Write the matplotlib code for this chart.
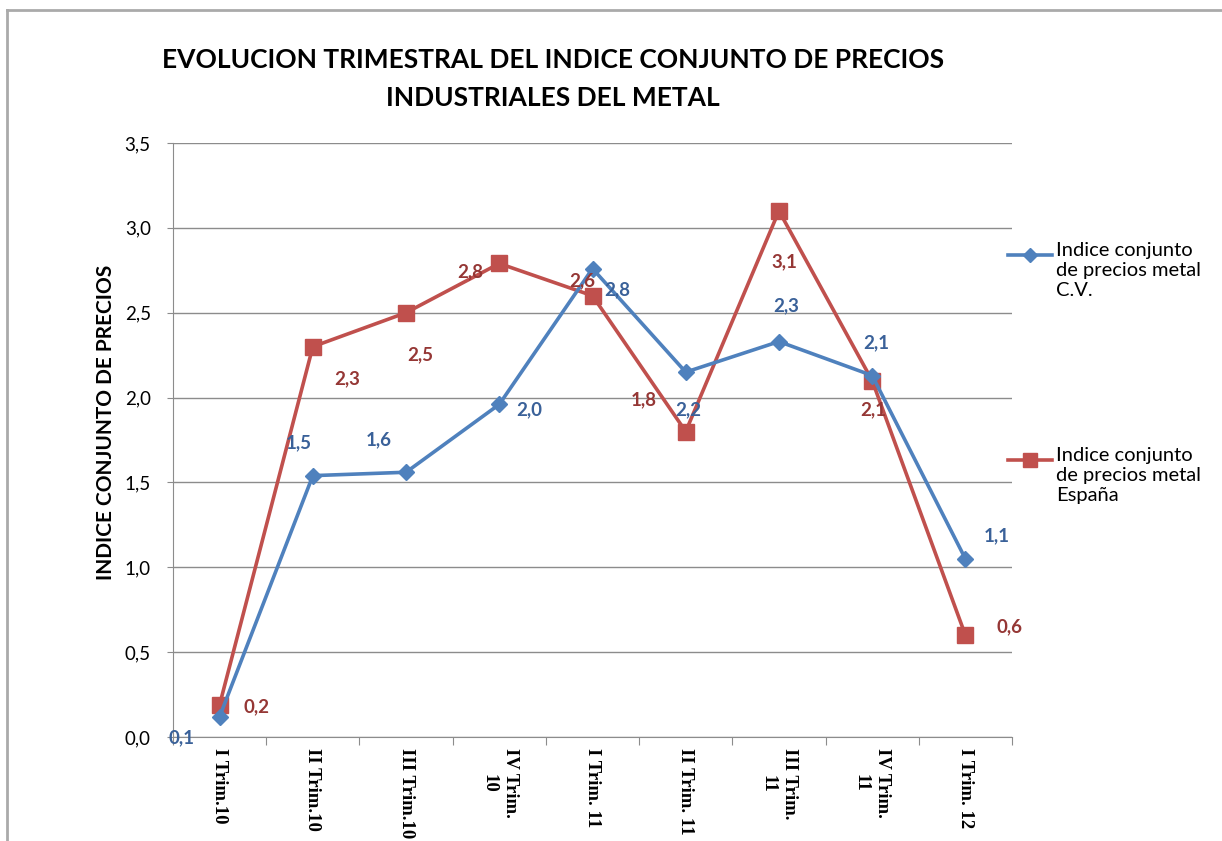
import matplotlib
matplotlib.use("Agg")
import matplotlib.pyplot as plt
from matplotlib.lines import Line2D

# data
trimestres = ["I Trim.10", "II Trim.10", "III Trim.10", "IV Trim.\n10", "I Trim. 11",
              "II Trim. 11", "III Trim.\n11", "IV Trim.\n11", "I Trim. 12"]
cv_values = [0.12, 1.54, 1.56, 1.96, 2.76, 2.15, 2.33, 2.13, 1.05]
cv_labels = ["0,1", "1,5", "1,6", "2,0", "2,8", "2,2", "2,3", "2,1", "1,1"]
es_values = [0.19, 2.30, 2.50, 2.79, 2.60, 1.80, 3.10, 2.10, 0.60]
es_labels = ["0,2", "2,3", "2,5", "2,8", "2,6", "1,8", "3,1", "2,1", "0,6"]
yticks = [0, 0.5, 1.0, 1.5, 2.0, 2.5, 3.0, 3.5]
ytick_labels = ["0,0", "0,5", "1,0", "1,5", "2,0", "2,5", "3,0", "3,5"]

# label offsets in pixels (dx, dy) relative to each point, as in the Excel chart
cv_off = [(-38, -21), (-14, 33), (-27, 32), (30, -5), (25, -21), (3, -38), (7, 36), (4, 33), (31, 23)]
es_off = [(37, -2), (34, -32), (14, -42), (-29, -8), (-10, 15), (-42, 32), (5, -51), (1, -29), (44, 8)]

BLUE = "#4F81BD"
RED = "#C0504D"
BLUE_TXT = "#3A6199"
RED_TXT = "#953735"
GRID = "#8C8C8C"

W, H = 1222, 841
fig = plt.figure(figsize=(W / 100, H / 100), dpi=100)
ax = fig.add_axes([173 / W, 1 - 737 / H, (1012 - 173) / W, (737 - 143) / H])

# outer chart border (cropped screenshot: only top and left edges visible)
fig.add_artist(Line2D([7 / W, 1], [1 - 9.5 / H, 1 - 9.5 / H], transform=fig.transFigure,
                      color="#AAAAAA", lw=2))
fig.add_artist(Line2D([7 / W, 7 / W], [0, 1 - 9.5 / H], transform=fig.transFigure,
                      color="#AAAAAA", lw=2))

x = list(range(len(trimestres)))
ax.plot(x, cv_values, color=BLUE, lw=2.6, marker="D", ms=8.5, mec=BLUE, mfc=BLUE, zorder=4)
ax.plot(x, es_values, color=RED, lw=2.6, marker="s", ms=11, mec=RED, mfc=RED, zorder=3)

for i in x:
    ax.annotate(cv_labels[i], (i, cv_values[i]), xytext=cv_off[i], textcoords="offset pixels",
                ha="center", va="center", color=BLUE_TXT, fontsize=13.5, fontweight="bold",
                family="Lato", zorder=6, annotation_clip=False)
    ax.annotate(es_labels[i], (i, es_values[i]), xytext=es_off[i], textcoords="offset pixels",
                ha="center", va="center", color=RED_TXT, fontsize=13.5, fontweight="bold",
                family="Lato", zorder=6, annotation_clip=False)

ax.set_xlim(-0.5, len(trimestres) - 0.5)
ax.set_ylim(0, 3.5)
ax.set_yticks(yticks)
ax.set_yticklabels(ytick_labels, family="Lato", fontsize=13.5)
ax.yaxis.grid(True, color=GRID, lw=1)
ax.set_axisbelow(True)
ax.tick_params(axis="y", length=4, color=GRID, pad=12)

# category labels between boundary ticks
ax.set_xticks([i + 0.5 for i in x[:-1]] + [-0.5, len(trimestres) - 0.5])
ax.set_xticklabels([])
ax.tick_params(axis="x", length=6, color=GRID)
ax.set_xticks(x, minor=True)
ax.set_xticklabels(trimestres, minor=True, rotation=270, family="Liberation Serif",
                   fontsize=13.5, fontweight="bold", va="top", ha="center", linespacing=1.35)
ax.tick_params(axis="x", which="minor", length=0, pad=8)

for s in ["top", "right"]:
    ax.spines[s].set_visible(False)
ax.spines["left"].set_color(GRID)
ax.spines["bottom"].set_color(GRID)

ax.set_ylabel("INDICE CONJUNTO DE PRECIOS", family="Lato", fontsize=15, fontweight="bold")
ax.yaxis.set_label_coords(-0.068, 0.529)

fig.text(553 / W, 1 - 60 / H, "EVOLUCION TRIMESTRAL DEL INDICE CONJUNTO DE PRECIOS",
         ha="center", va="center", family="Lato", fontsize=19, fontweight="bold")
fig.text(553 / W, 1 - 98 / H, "INDUSTRIALES DEL METAL",
         ha="center", va="center", family="Lato", fontsize=19, fontweight="bold")

# legend drawn on the right, handle aligned with the first text line
legend_items = [
    (BLUE, "D", 7, 255, "Indice conjunto\nde precios metal\nC.V."),
    (RED, "s", 10, 460, "Indice conjunto\nde precios metal\nEspaña"),
]
for col, mk, ms, ypix, txt in legend_items:
    yf = 1 - ypix / H
    fig.add_artist(Line2D([1008 / W, 1052 / W], [yf, yf], transform=fig.transFigure,
                          color=col, lw=2.6))
    fig.add_artist(Line2D([1030 / W], [yf], transform=fig.transFigure, color=col,
                          marker=mk, ms=ms, mec=col, mfc=col, lw=0))
    fig.text(1056 / W, yf + 13 / H, txt, ha="left", va="top", family="Lato",
             fontsize=14.5, linespacing=1.2)

fig.savefig("out.png", dpi=100)
